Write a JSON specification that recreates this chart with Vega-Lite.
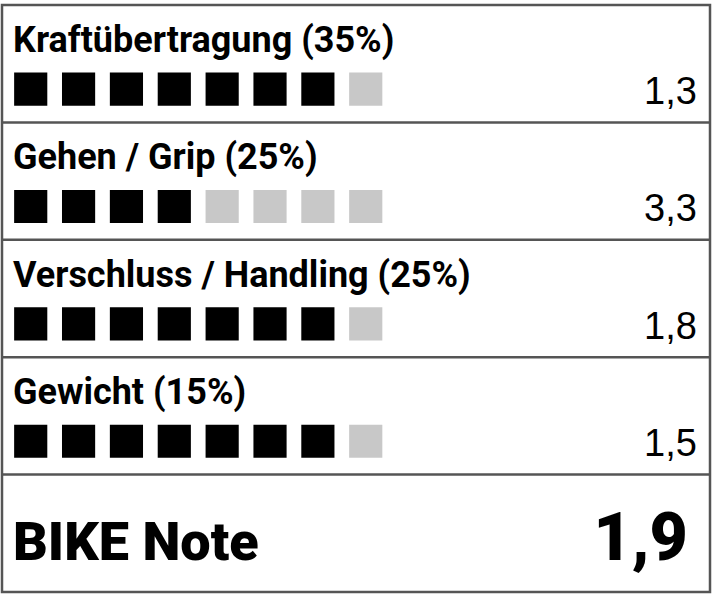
{
  "$schema": "https://vega.github.io/schema/vega-lite/v6.json",
  "width": 708,
  "height": 587,
  "autosize": "none",
  "padding": {"left": 2, "top": 5, "right": 2, "bottom": 15},
  "background": "white",
  "datasets": {
    "rows": [
      {"criterion": "Kraftübertragung (35%)", "score": 1.3, "total": false},
      {"criterion": "Gehen / Grip (25%)", "score": 3.3, "total": false},
      {"criterion": "Verschluss / Handling (25%)", "score": 1.8, "total": false},
      {"criterion": "Gewicht (15%)", "score": 1.5, "total": false},
      {"criterion": "BIKE Note", "score": 1.9, "total": true}
    ],
    "squares": [
      {"criterion": "Kraftübertragung (35%)", "square": 1, "filled": "ja"},
      {"criterion": "Kraftübertragung (35%)", "square": 2, "filled": "ja"},
      {"criterion": "Kraftübertragung (35%)", "square": 3, "filled": "ja"},
      {"criterion": "Kraftübertragung (35%)", "square": 4, "filled": "ja"},
      {"criterion": "Kraftübertragung (35%)", "square": 5, "filled": "ja"},
      {"criterion": "Kraftübertragung (35%)", "square": 6, "filled": "ja"},
      {"criterion": "Kraftübertragung (35%)", "square": 7, "filled": "ja"},
      {"criterion": "Kraftübertragung (35%)", "square": 8, "filled": "nein"},
      {"criterion": "Gehen / Grip (25%)", "square": 1, "filled": "ja"},
      {"criterion": "Gehen / Grip (25%)", "square": 2, "filled": "ja"},
      {"criterion": "Gehen / Grip (25%)", "square": 3, "filled": "ja"},
      {"criterion": "Gehen / Grip (25%)", "square": 4, "filled": "ja"},
      {"criterion": "Gehen / Grip (25%)", "square": 5, "filled": "nein"},
      {"criterion": "Gehen / Grip (25%)", "square": 6, "filled": "nein"},
      {"criterion": "Gehen / Grip (25%)", "square": 7, "filled": "nein"},
      {"criterion": "Gehen / Grip (25%)", "square": 8, "filled": "nein"},
      {"criterion": "Verschluss / Handling (25%)", "square": 1, "filled": "ja"},
      {"criterion": "Verschluss / Handling (25%)", "square": 2, "filled": "ja"},
      {"criterion": "Verschluss / Handling (25%)", "square": 3, "filled": "ja"},
      {"criterion": "Verschluss / Handling (25%)", "square": 4, "filled": "ja"},
      {"criterion": "Verschluss / Handling (25%)", "square": 5, "filled": "ja"},
      {"criterion": "Verschluss / Handling (25%)", "square": 6, "filled": "ja"},
      {"criterion": "Verschluss / Handling (25%)", "square": 7, "filled": "ja"},
      {"criterion": "Verschluss / Handling (25%)", "square": 8, "filled": "nein"},
      {"criterion": "Gewicht (15%)", "square": 1, "filled": "ja"},
      {"criterion": "Gewicht (15%)", "square": 2, "filled": "ja"},
      {"criterion": "Gewicht (15%)", "square": 3, "filled": "ja"},
      {"criterion": "Gewicht (15%)", "square": 4, "filled": "ja"},
      {"criterion": "Gewicht (15%)", "square": 5, "filled": "ja"},
      {"criterion": "Gewicht (15%)", "square": 6, "filled": "ja"},
      {"criterion": "Gewicht (15%)", "square": 7, "filled": "ja"},
      {"criterion": "Gewicht (15%)", "square": 8, "filled": "nein"}
    ]
  },
  "encoding": {
    "y": {
      "field": "criterion",
      "type": "nominal",
      "sort": null,
      "axis": null,
      "scale": {
        "domain": ["Kraftübertragung (35%)", "Gehen / Grip (25%)", "Verschluss / Handling (25%)", "Gewicht (15%)", "BIKE Note"],
        "paddingInner": 0,
        "paddingOuter": 0
      }
    }
  },
  "layer": [
    {
      "data": {"name": "rows"},
      "transform": [{"filter": "datum.criterion != 'Kraftübertragung (35%)'"}],
      "mark": {"type": "rule", "stroke": "#555555", "strokeWidth": 2.5},
      "encoding": {
        "y": {"field": "criterion", "type": "nominal", "bandPosition": 0}
      }
    },
    {
      "data": {"name": "squares"},
      "mark": {"type": "square", "size": 1100, "opacity": 1, "filled": true},
      "encoding": {
        "x": {
          "field": "square",
          "type": "quantitative",
          "axis": null,
          "scale": {"domain": [0.4, 15.193], "nice": false, "zero": false}
        },
        "y": {"field": "criterion", "type": "nominal", "bandPosition": 0.716},
        "color": {
          "field": "filled",
          "type": "nominal",
          "legend": null,
          "scale": {"domain": ["ja", "nein"], "range": ["#000000", "#c8c8c8"]}
        }
      }
    },
    {
      "data": {"name": "rows"},
      "transform": [{"filter": "!datum.total"}],
      "mark": {
        "type": "text",
        "align": "left",
        "baseline": "alphabetic",
        "font": "Roboto",
        "fontWeight": "bold",
        "fontSize": 36,
        "color": "#000000"
      },
      "encoding": {
        "x": {"datum": 0.63, "type": "quantitative"},
        "y": {"field": "criterion", "type": "nominal", "bandPosition": 0.4},
        "text": {"field": "criterion", "type": "nominal"}
      }
    },
    {
      "data": {"name": "rows"},
      "transform": [{"filter": "!datum.total"}],
      "mark": {
        "type": "text",
        "align": "right",
        "baseline": "alphabetic",
        "font": "Liberation Sans",
        "fontSize": 38,
        "color": "#000000"
      },
      "encoding": {
        "x": {"datum": 14.92, "type": "quantitative"},
        "y": {"field": "criterion", "type": "nominal", "bandPosition": 0.843},
        "text": {"field": "score", "type": "quantitative", "format": ".1f"}
      }
    },
    {
      "data": {"name": "rows"},
      "transform": [{"filter": "datum.total"}],
      "mark": {
        "type": "text",
        "align": "left",
        "baseline": "alphabetic",
        "font": "Roboto",
        "fontWeight": 900,
        "fontSize": 54,
        "color": "#000000"
      },
      "encoding": {
        "x": {"datum": 0.63, "type": "quantitative"},
        "y": {"field": "criterion", "type": "nominal", "bandPosition": 0.727},
        "text": {"field": "criterion", "type": "nominal"}
      }
    },
    {
      "data": {"name": "rows"},
      "transform": [{"filter": "datum.total"}],
      "mark": {
        "type": "text",
        "align": "right",
        "baseline": "alphabetic",
        "font": "Roboto",
        "fontWeight": 900,
        "fontSize": 66,
        "color": "#000000"
      },
      "encoding": {
        "x": {"datum": 14.73, "type": "quantitative"},
        "y": {"field": "criterion", "type": "nominal", "bandPosition": 0.727},
        "text": {"field": "score", "type": "quantitative", "format": ".1f"}
      }
    }
  ],
  "config": {
    "locale": {
      "number": {"decimal": ",", "thousands": ".", "grouping": [3], "currency": ["", " €"]}
    },
    "view": {"stroke": "#555555", "strokeWidth": 2.5}
  }
}
